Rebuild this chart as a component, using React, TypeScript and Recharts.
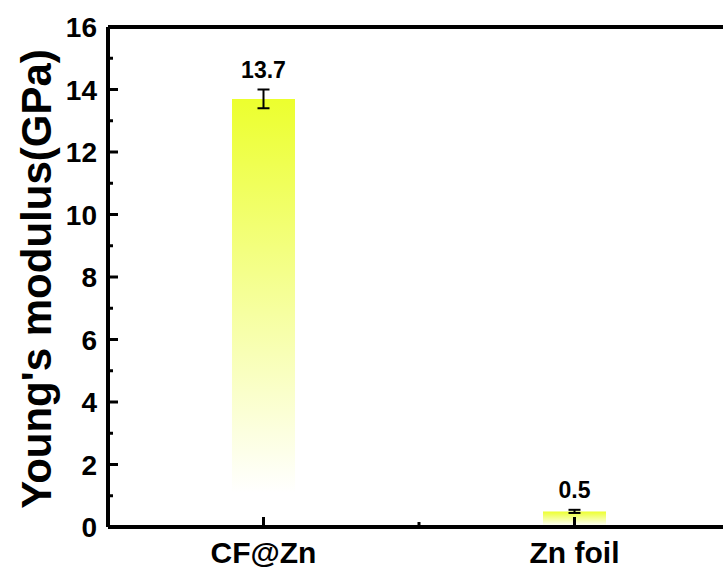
import React from "react";
import { BarChart, Bar, XAxis, YAxis, ErrorBar, LabelList, ReferenceLine } from "recharts";

const categories = ["CF@Zn", "Zn foil"];
const modulus = [13.7, 0.5];
const errors = [0.3, 0.05];
const majorTicks = [0, 2, 4, 6, 8, 10, 12, 14, 16];
const minorTicks = [1, 3, 5, 7, 9, 11, 13, 15];
const valueLabels = ["13.7", "0.5"];

const data = categories.map((c, i) => ({ name: c, value: modulus[i], err: errors[i] }));
const FONT = "'Liberation Sans', Arial, sans-serif";

const YTick = (props: any) => {
  const { x, y, payload } = props;
  const isMajor = majorTicks.includes(payload.value);
  return (
    <g>
      <line x1={x} x2={x + (isMajor ? 10 : 5)} y1={y} y2={y} stroke="#000" strokeWidth={3} />
      {isMajor && (
        <text x={x - 11} y={y} dy="0.36em" textAnchor="end" fontFamily={FONT} fontWeight="bold" fontSize={28} fill="#000">
          {payload.value}
        </text>
      )}
    </g>
  );
};

const XTick = (props: any) => {
  const { x, y, payload, index, width } = props;
  return (
    <g>
      <line x1={x} x2={x} y1={y} y2={y - 10} stroke="#000" strokeWidth={3} />
      {index === 0 && typeof width === "number" && (
        <line x1={x + width / 4} x2={x + width / 4} y1={y} y2={y - 5} stroke="#000" strokeWidth={3} />
      )}
      <text x={x} y={y + 36} textAnchor="middle" fontFamily={FONT} fontWeight="bold" fontSize={30} fill="#000">
        {payload.value}
      </text>
    </g>
  );
};

const ValueLabel = (props: any) => {
  const { x, y, width, height, index, value } = props;
  const pxPerUnit = value ? height / value : 0;
  const top = y - errors[index] * pxPerUnit;
  return (
    <text x={x + width / 2} y={top - 12} textAnchor="middle" fontFamily={FONT} fontWeight="bold" fontSize={23} fill="#000">
      {valueLabels[index]}
    </text>
  );
};

const YTitle = (props: any) => {
  const { viewBox } = props;
  const cx = viewBox.x + 36;
  const cy = viewBox.y + viewBox.height / 2 + 2;
  return (
    <text x={cx} y={cy} transform={`rotate(-90 ${cx} ${cy})`} dy="0.36em" textAnchor="middle" fontFamily={FONT} fontWeight="bold" fontSize={42} fill="#000">
      Young's modulus(GPa)
    </text>
  );
};

export default function App() {
  return (
    <div style={{ position: "absolute", left: 0, top: 0, width: 723, height: 575, overflow: "hidden", background: "#fff" }}>
      <BarChart width={740} height={575} data={data} margin={{ top: 27, right: 10, bottom: 0, left: 0 }}>
        <defs>
          <linearGradient id="barGrad" x1="0" y1="0" x2="0" y2="1">
            <stop offset="0" stopColor="#ecff2e" />
            <stop offset="0.45" stopColor="#f5ff95" />
            <stop offset="0.92" stopColor="#ffffff" />
          </linearGradient>
        </defs>
        <XAxis
          dataKey="name"
          height={48}
          tickSize={0}
          tickMargin={0}
          tickLine={false}
          axisLine={{ stroke: "#000", strokeWidth: 4 }}
          tick={<XTick />}
          interval={0}
        />
        <YAxis
          width={108}
          domain={[0, 16]}
          ticks={[...majorTicks, ...minorTicks].sort((a, b) => a - b)}
          interval={0}
          tickSize={0}
          tickMargin={0}
          tickLine={false}
          axisLine={{ stroke: "#000", strokeWidth: 4 }}
          tick={<YTick />}
          label={<YTitle />}
        />
        <ReferenceLine y={16} stroke="#000" strokeWidth={4} ifOverflow="visible" />
        <Bar dataKey="value" barSize={63} fill="url(#barGrad)" isAnimationActive={false}>
          <ErrorBar dataKey="err" width={6} stroke="#000" strokeWidth={2} direction="y" />
          <LabelList dataKey="value" content={<ValueLabel />} />
        </Bar>
      </BarChart>
    </div>
  );
}
